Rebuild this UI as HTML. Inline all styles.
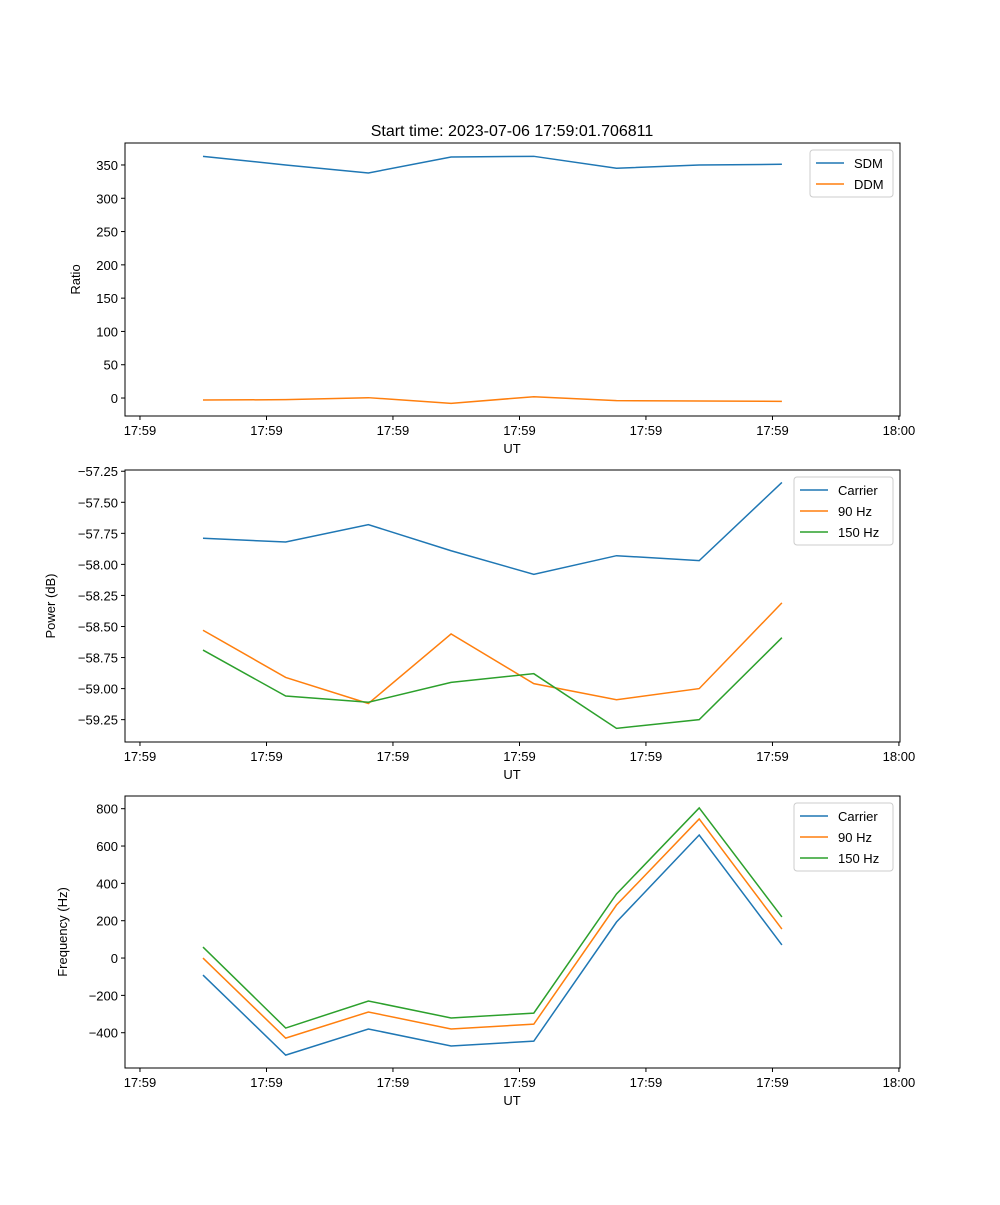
<!DOCTYPE html>
<html><head><meta charset="utf-8"><style>
body{margin:0;background:#fff;}
svg text{font-family:"Liberation Sans","DejaVu Sans",sans-serif;fill:#000;}
</style></head><body>
<svg id="fig" width="1000" height="1200" xmlns="http://www.w3.org/2000/svg">
<rect width="1000" height="1200" fill="#fff"/>
<text x="512" y="136" font-size="16" text-anchor="middle">Start time: 2023-07-06 17:59:01.706811</text>
</svg>
<script>
const xTickLabels=["17:59","17:59","17:59","17:59","17:59","17:59","18:00"];
const sdm=[363,350,338,362,363,345,350,351];
const ddm=[-3,-2.5,0.5,-8,2,-4,-4.5,-5];
const pCarrier=[-57.79,-57.82,-57.68,-57.89,-58.08,-57.93,-57.97,-57.34];
const p90=[-58.53,-58.91,-59.12,-58.56,-58.96,-59.09,-59.0,-58.31];
const p150=[-58.69,-59.06,-59.11,-58.95,-58.88,-59.32,-59.25,-58.59];
const fCarrier=[-91,-520,-380,-471,-445,193,659,70];
const f90=[0,-429,-289,-380,-354,284,745,155];
const f150=[59,-375,-230,-321,-295,343,804,220];
const ticks1=[0,50,100,150,200,250,300,350];
const ticks2=[-59.25,-59.0,-58.75,-58.5,-58.25,-58.0,-57.75,-57.5,-57.25];
const ticks3=[-400,-200,0,200,400,600,800];

const C=["#1f77b4","#ff7f0e","#2ca02c"];
const svg=document.getElementById('fig');
const NS="http://www.w3.org/2000/svg";
function mk(tag,attrs,parent){const e=document.createElementNS(NS,tag);for(const k in attrs)e.setAttribute(k,attrs[k]);(parent||svg).appendChild(e);return e;}
const L=125,R=900,xmin=-0.943,xmax=8.428;
function xs(i){return L+(i-xmin)/(xmax-xmin)*(R-L);}
const xTickPos=[-0.762,0.768,2.297,3.827,5.356,6.886,8.415];

function panel(name,top,bot,ymin,ymax,ticks,fmt,ylabel,series,labels,legW,legH){
  const g=mk('g',{});
  
  
  const ys=v=>bot-(v-ymin)/(ymax-ymin)*(bot-top);
  const frame=mk('rect',{x:L,y:top,width:R-L,height:bot-top,fill:'none',stroke:'#000','stroke-width':1},g);
  
  
  xTickPos.forEach((t,i)=>{
    const x=xs(t);
    mk('line',{x1:x,x2:x,y1:bot,y2:bot+4,stroke:'#000'},g);
    const tx=mk('text',{x:x,y:bot+19,'font-size':13,'text-anchor':'middle'},g);
    tx.textContent=xTickLabels[i];
    
    
  });
  const xl=mk('text',{x:512,y:bot+37,'font-size':13,'text-anchor':'middle'},g);
  xl.textContent='UT';
  
  
  ticks.forEach(v=>{
    const y=ys(v);
    mk('line',{x1:L-4,x2:L,y1:y,y2:y,stroke:'#000'},g);
    const tx=mk('text',{x:L-7,y:y+5,'font-size':13,'text-anchor':'end'},g);
    tx.textContent=fmt(v);
    
    
  });
  const yl=mk('text',{x:0,y:0,'font-size':13,'text-anchor':'middle',transform:`translate(${ylabel[1]},${(top+bot)/2}) rotate(-90)`},g);
  yl.textContent=ylabel[0];
  
  
  series.forEach((s,k)=>{
    const p=mk('polyline',{points:s.map((v,i)=>xs(i)+','+ys(v)).join(' '),fill:'none',stroke:C[k],'stroke-width':1.5},g);
    
    
  });
  const lx=R-7-legW, ly=top+7;
  const lg=mk('g',{},g);
  
  
  mk('rect',{x:lx,y:ly,width:legW,height:legH,fill:'#fff',stroke:'#ccc',rx:3},lg);
  labels.forEach((lab,k)=>{
    const y=ly+13+k*21;
    mk('line',{x1:lx+6,x2:lx+34,y1:y,y2:y,stroke:C[k],'stroke-width':1.5},lg);
    const t=mk('text',{x:lx+44,y:y+5,'font-size':13},lg);
    t.textContent=lab;
    
    
  });
}
const m='\u2212';
panel('ratio-panel',143,416,-27,383,ticks1,v=>String(v),['Ratio',80],[sdm,ddm],['SDM','DDM'],83,47);
panel('power-panel',470,742,-59.43,-57.24,ticks2,v=>m+Math.abs(v).toFixed(2),['Power (dB)',55],[pCarrier,p90,p150],['Carrier','90 Hz','150 Hz'],99,68);
panel('frequency-panel',796,1068,-589,868,ticks3,v=>(v<0?m:'')+Math.abs(v),['Frequency (Hz)',67],[fCarrier,f90,f150],['Carrier','90 Hz','150 Hz'],99,68);
</script>
</body></html>
